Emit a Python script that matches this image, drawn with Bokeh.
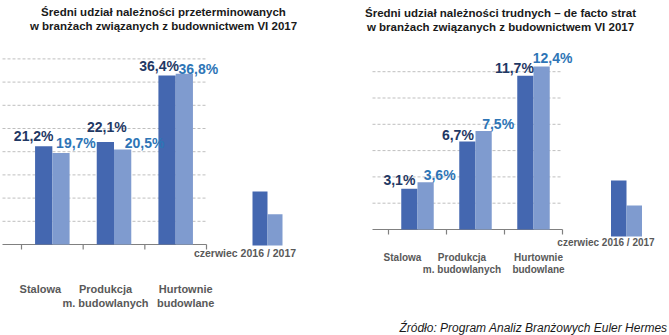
from bokeh.plotting import figure
from bokeh.layouts import row
from bokeh.models import ColumnDataSource, Range1d
from bokeh.core.properties import value
from bokeh.embed import file_html
from bokeh.resources import INLINE

# ---------------- data ----------------
categories = ["Stalowa", "Produkcja\nm. budowlanych", "Hurtownie\nbudowlane"]
left_title = ["Średni udział należności przeterminowanych",
              "w branżach związanych z budownictwem VI 2017"]
right_title = ["Średni udział należności trudnych – de facto strat",
               "w branżach związanych z budownictwem VI 2017"]
overdue_2016 = [21.2, 22.1, 36.4]
overdue_2017 = [19.7, 20.5, 36.8]
bad_2016 = [3.1, 6.7, 11.7]
bad_2017 = [3.6, 7.5, 12.4]
left_grid_ticks = [5, 10, 15, 20, 25, 30, 35, 40]
right_grid_ticks = [2, 4, 6, 8, 10, 12]
legend_text = "czerwiec 2016 / 2017"
source_text = "Źródło: Program Analiz Branżowych Euler Hermes"

DARK = "#4467B0"
LIGHT = "#7F9BCF"
DARK_TXT = "#1F3864"
LIGHT_TXT = "#2E75B6"
CAT_TXT = "#595959"
GRID = "#BFBFBF"
AXIS = "#808080"
FONT = value("Liberation Sans")


def fmt(v):
    return ("%.1f" % v).replace(".", ",") + "%"


def make_chart(width, px_unit, px_x0, px_per_pct, px_base, s16, s17, ticks,
               title, title_x, title_ys, lab16_off, lab17_off,
               cat_off, cat_ys, cat_size, grid_x0, leg_x, leg_w, leg_base, leg_h,
               leg_text_pos, leg_size):
    H = 335
    p = figure(width=width, height=H, output_backend="svg", toolbar_location=None,
               min_border=0, min_border_left=0, min_border_right=0,
               min_border_top=0, min_border_bottom=0,
               x_range=Range1d(-px_x0 / px_unit, (width - px_x0) / px_unit),
               y_range=Range1d(-(H - px_base) / px_per_pct, px_base / px_per_pct))
    p.axis.visible = False
    p.grid.visible = False
    p.outline_line_color = None
    p.background_fill_color = "white"
    p.border_fill_color = "white"

    n = len(s16)
    # gridlines
    p.segment(x0=[grid_x0] * len(ticks), x1=[n] * len(ticks), y0=ticks, y1=ticks,
              line_color=GRID, line_width=1, line_dash="3 2")
    # axis line and ticks
    tick_len = 5 / px_per_pct
    p.segment(x0=[grid_x0], x1=[n], y0=[0], y1=[0], line_color=AXIS, line_width=1.2)
    p.segment(x0=list(range(n + 1)), x1=list(range(n + 1)), y0=[0] * (n + 1),
              y1=[-tick_len] * (n + 1), line_color=AXIS, line_width=1.2)

    centers = [i + 0.5 for i in range(n)]
    bw = 0.28
    x16 = [c - bw / 2 for c in centers]
    x17 = [c + bw / 2 for c in centers]
    p.vbar(x=x16, top=s16, bottom=0, width=bw, fill_color=DARK, line_color=None)
    p.vbar(x=x17, top=s17, bottom=0, width=bw, fill_color=LIGHT, line_color=None)

    # value labels
    for xs, vals, offs, col in ((x16, s16, lab16_off, DARK_TXT), (x17, s17, lab17_off, LIGHT_TXT)):
        src = ColumnDataSource(dict(x=xs, y=vals, t=[fmt(v) for v in vals],
                                    xo=[o[0] for o in offs], yo=[o[1] for o in offs]))
        p.text(x="x", y="y", text="t", source=src, x_offset="xo", y_offset="yo",
               text_align="center", text_baseline="middle", text_font=FONT,
               text_font_size="14px", text_font_style="bold", text_color=col)

    # category labels (one text row per line)
    for li in range(2):
        xs, ys, ts, xo = [], [], [], []
        for i, c in enumerate(categories):
            parts = c.split("\n")
            if li < len(parts):
                xs.append(centers[i]); ys.append(cat_ys[li]); ts.append(parts[li]); xo.append(cat_off[i])
        src = ColumnDataSource(dict(x=xs, y=ys, t=ts, xo=xo))
        p.text(x="x", y="y", text="t", source=src, x_offset="xo",
               text_align="center", text_baseline="middle", text_font=FONT,
               text_font_size=cat_size, text_font_style="bold", text_color=CAT_TXT)

    # legend sample
    p.vbar(x=[leg_x - leg_w / 2], top=[leg_base + leg_h[0]], bottom=leg_base, width=leg_w,
           fill_color=DARK, line_color=None)
    p.vbar(x=[leg_x + leg_w / 2], top=[leg_base + leg_h[1]], bottom=leg_base, width=leg_w,
           fill_color=LIGHT, line_color=None)
    p.text(x=[leg_text_pos[0]], y=[leg_text_pos[1]], text=[legend_text],
           text_align="center", text_baseline="middle", text_font=FONT,
           text_font_size=leg_size, text_font_style="bold", text_color=CAT_TXT)

    # title
    p.text(x=[title_x] * 2, y=title_ys, text=title, text_align="center",
           text_baseline="middle", text_font=FONT, text_font_size="11.5px",
           text_font_style="bold", text_color="#1A1A1A")
    return p


# left chart
lu, lx0, lpp, lb = 61.67, 21, 4.64, 244
p1 = make_chart(
    335, lu, lx0, lpp, lb, overdue_2016, overdue_2017, left_grid_ticks,
    left_title, (163 - lx0) / lu, [(lb - 11) / lpp, (lb - 25) / lpp],
    [(-10, -10.6), (1.5, -14.5), (-8, -10)],
    [(15, -9.6), (22, -6), (14, -5)],
    [-12, -8.5, 10], [-(288 - lb) / lpp, -(302 - lb) / lpp], "11px",
    (2 - lx0) / lu,
    (267 - lx0) / lu, 15 / lu, -0.2, [11.6, 6.7],
    ((244.5 - lx0) / lu, -(252 - lb) / lpp), "10.5px")

# right chart
ru, rx0, rpp, rb = 58.0, 53, 13.15, 229
p2 = make_chart(
    334, ru, rx0, rpp, rb, bad_2016, bad_2017, right_grid_ticks,
    right_title, (165 - rx0) / ru, [(rb - 12) / rpp, (rb - 26) / rpp],
    [(-10, -9), (-9.5, -6), (-11, -8)],
    [(14, -6.7), (14.5, -6.4), (11, -8)],
    [-15, -13.5, 5], [-(257 - rb) / rpp, -(269 - rb) / rpp], "10px",
    (37 - rx0) / ru,
    (626 - 335 - rx0) / ru, 15.5 / ru, -0.53, [4.26, 2.36],
    ((605.5 - 335 - rx0) / ru, -(242 - rb) / rpp), "10px")

p2.text(x=[(332 - rx0) / ru], y=[-(327 - rb) / rpp], text=[source_text],
        text_align="right", text_baseline="middle", text_font=FONT,
        text_font_size="12px", text_font_style="italic", text_color="#1A1A1A")

layout = row(p1, p2, spacing=0)
open("out.html", "w").write(file_html(layout, INLINE))
